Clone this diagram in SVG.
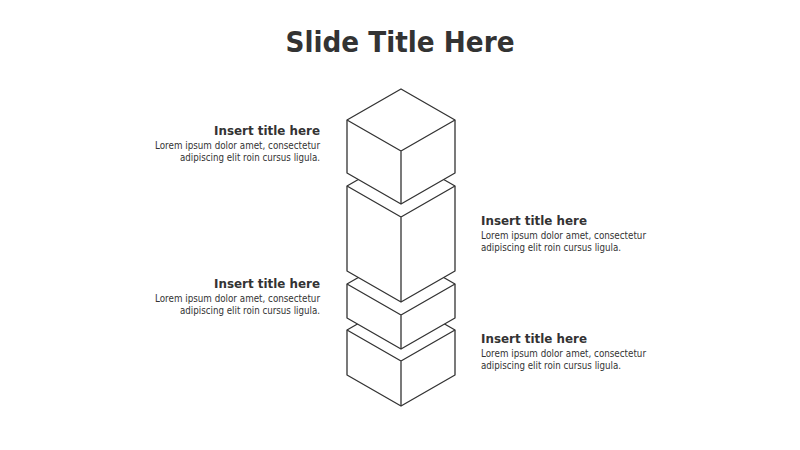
<svg xmlns="http://www.w3.org/2000/svg" width="800" height="450" viewBox="0 0 800 450">
<style>
.t{font-family:"DejaVu Sans",Verdana,sans-serif;fill:#333}
.ttl{font-size:28px;font-weight:bold}
.h{font-size:13px;font-weight:bold}
.b{font-size:9.6px}
.cube{fill:#fff;stroke:#333;stroke-width:1.3;stroke-linejoin:round}
</style>
<rect width="800" height="450" fill="#fff"/>
<text class="t ttl" x="400" y="52" text-anchor="middle" textLength="229" lengthAdjust="spacingAndGlyphs">Slide Title Here</text>
<g id="block4">
<path class="cube" d="M347,330 L401,299 L455,330 L455,375 L401,406 L347,375 Z"/>
<path class="cube" d="M347,330 L401,361 L455,330 M401,361 L401,406" fill="none"/>
</g>
<g id="block3">
<path class="cube" d="M347,284 L401,253 L455,284 L455,318 L401,349 L347,318 Z"/>
<path class="cube" d="M347,284 L401,315 L455,284 M401,315 L401,349" fill="none"/>
</g>
<g id="block2">
<path class="cube" d="M347,186 L401,155 L455,186 L455,271 L401,302 L347,271 Z"/>
<path class="cube" d="M347,186 L401,217 L455,186 M401,217 L401,302" fill="none"/>
</g>
<g id="block1">
<path class="cube" d="M347,120 L401,89 L455,120 L455,173 L401,204 L347,173 Z"/>
<path class="cube" d="M347,120 L401,151 L455,120 M401,151 L401,204" fill="none"/>
</g>
<g id="label1" text-anchor="end">
<text class="t h" x="320" y="135" textLength="106" lengthAdjust="spacingAndGlyphs">Insert title here</text>
<text class="t b" x="320" y="149" textLength="165" lengthAdjust="spacingAndGlyphs">Lorem ipsum dolor amet, consectetur</text>
<text class="t b" x="320" y="161" textLength="140" lengthAdjust="spacingAndGlyphs">adipiscing elit roin cursus ligula.</text>
</g>
<g id="label2">
<text class="t h" x="481" y="225" textLength="106" lengthAdjust="spacingAndGlyphs">Insert title here</text>
<text class="t b" x="481" y="239" textLength="165" lengthAdjust="spacingAndGlyphs">Lorem ipsum dolor amet, consectetur</text>
<text class="t b" x="481" y="251" textLength="140" lengthAdjust="spacingAndGlyphs">adipiscing elit roin cursus ligula.</text>
</g>
<g id="label3" text-anchor="end">
<text class="t h" x="320" y="288" textLength="106" lengthAdjust="spacingAndGlyphs">Insert title here</text>
<text class="t b" x="320" y="302" textLength="165" lengthAdjust="spacingAndGlyphs">Lorem ipsum dolor amet, consectetur</text>
<text class="t b" x="320" y="314" textLength="140" lengthAdjust="spacingAndGlyphs">adipiscing elit roin cursus ligula.</text>
</g>
<g id="label4">
<text class="t h" x="481" y="343" textLength="106" lengthAdjust="spacingAndGlyphs">Insert title here</text>
<text class="t b" x="481" y="357" textLength="165" lengthAdjust="spacingAndGlyphs">Lorem ipsum dolor amet, consectetur</text>
<text class="t b" x="481" y="369" textLength="140" lengthAdjust="spacingAndGlyphs">adipiscing elit roin cursus ligula.</text>
</g>
</svg>
